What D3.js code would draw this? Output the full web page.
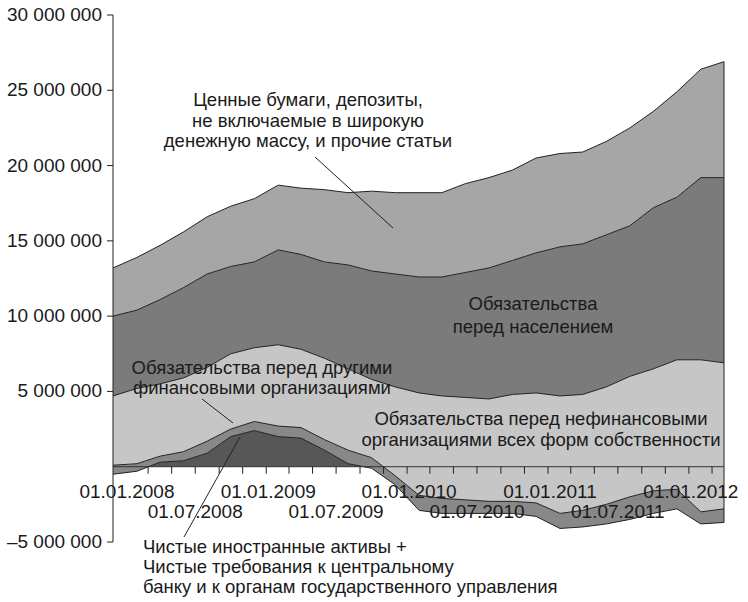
<!DOCTYPE html>
<html>
<head>
<meta charset="utf-8">
<script src="https://cdn.jsdelivr.net/npm/d3@7"></script>
<style>
  body { margin: 0; background: #fff; }
  text { font-family: "Liberation Sans", Arial, sans-serif; fill: #1a1a1a; }
</style>
</head>
<body>
<svg id="chart" width="748" height="602"></svg>
<script>
// dates, every 2 months from 01.12.2007
const dates = ['2007-12','2008-02','2008-04','2008-06','2008-08','2008-10','2008-12',
  '2009-02','2009-04','2009-06','2009-08','2009-10','2009-12','2010-02','2010-04','2010-06',
  '2010-08','2010-10','2010-12','2011-02','2011-04','2011-06','2011-08','2011-10','2011-12',
  '2012-02','2012-04'];

// values, млн (bottom to top of the stack)
const foreignNet = [-0.5,-0.3,0.3,0.4,0.9,2.0,2.4,2.0,1.9,1.1,0.2,-0.1,-1.2,-2.9,-3.1,-3.1,-3.1,-3.1,-3.3,-4.1,-4.0,-3.8,-3.5,-3.1,-2.8,-3.8,-3.7];
const otherFin   = [0.6,0.5,0.4,0.6,0.8,0.5,0.6,0.7,0.7,0.7,0.9,0.7,0.6,1.0,1.0,0.9,0.8,0.8,0.9,1.0,1.1,1.3,1.5,1.5,1.3,0.8,0.9];
const nonFin     = [4.6,5.0,4.8,4.9,4.9,5.0,4.9,5.4,5.2,5.4,5.4,5.2,5.9,6.8,6.8,6.8,6.8,7.1,7.3,7.8,7.7,7.8,8.0,8.1,8.6,10.1,9.7];
const households = [5.3,5.2,5.6,6.0,6.2,5.8,5.7,6.3,6.3,6.4,6.9,7.2,7.5,7.7,7.9,8.3,8.7,8.9,9.3,9.9,10.0,10.1,10.0,10.7,10.8,12.1,12.3];
const securities = [3.2,3.5,3.6,3.7,3.8,4.0,4.2,4.3,4.4,4.8,4.8,5.3,5.4,5.6,5.6,5.9,6.0,6.0,6.3,6.2,6.1,6.2,6.5,6.4,7.0,7.2,7.7];

const yTicks = [-5e6, 5e6, 10e6, 15e6, 20e6, 25e6, 30e6];
const xLabelsJan = ['2008-01','2009-01','2010-01','2011-01','2012-01'];
const xLabelsJul = ['2008-07','2009-07','2010-07','2011-07'];

const parse = d3.timeParse('%Y-%m');
const fmt = d3.timeFormat('%d.%m.%Y');
const svg = d3.select('#chart');

const x = d3.scaleTime().domain([parse('2007-12'), parse('2012-04')]).range([113, 724]);
const y = d3.scaleLinear().domain([-5e6, 30e6]).range([542, 15]);

// cumulative boundaries
const series = [foreignNet, otherFin, nonFin, households, securities];
const rows = dates.map((d, i) => {
  let acc = 0;
  const c = series.map(s => (acc += s[i] * 1e6));
  return { date: parse(d), c };
});

const layers = [
  { lo: r => 0, hi: r => Math.max(r.c[0], 0), fill: '#575757' },
  { lo: r => r.c[0], hi: r => r.c[1], fill: '#888888' },
  { lo: r => r.c[1], hi: r => r.c[2], fill: '#c6c6c6' },
  { lo: r => r.c[2], hi: r => r.c[3], fill: '#7b7b7b' },
  { lo: r => r.c[3], hi: r => r.c[4], fill: '#a6a6a6' }
];

layers.forEach(l => {
  svg.append('path')
    .datum(rows)
    .attr('fill', l.fill)
    .attr('d', d3.area().x(r => x(r.date)).y0(r => y(l.lo(r))).y1(r => y(l.hi(r))));
});

// boundary lines
[0, 1, 2, 3, 4].forEach(k => {
  svg.append('path')
    .datum(rows)
    .attr('fill', 'none')
    .attr('stroke', '#222')
    .attr('stroke-width', 1)
    .attr('d', d3.line().x(r => x(r.date)).y(r => y(r.c[k])));
});

// right edge
svg.append('line').attr('x1', x.range()[1]).attr('x2', x.range()[1])
  .attr('y1', y(rows[rows.length - 1].c[4])).attr('y2', y(rows[rows.length - 1].c[0]))
  .attr('stroke', '#222');

// y axis
svg.append('line').attr('x1', 113).attr('x2', 113).attr('y1', y(30e6)).attr('y2', y(-5e6)).attr('stroke', '#222');
svg.selectAll('.yt').data(yTicks).enter().append('line')
  .attr('x1', 107).attr('x2', 113).attr('y1', d => y(d)).attr('y2', d => y(d)).attr('stroke', '#222');
svg.selectAll('.yl').data(yTicks).enter().append('text')
  .attr('x', 102).attr('y', d => y(d) + 6)
  .attr('text-anchor', 'end').attr('font-size', 19)
  .text(d => (d < 0 ? '\u2013' : '') + d3.format(',')(Math.abs(d)).replace(/,/g, ' '));

// x axis on zero line
svg.append('line').attr('x1', 113).attr('x2', 724).attr('y1', y(0)).attr('y2', y(0)).attr('stroke', '#333');
const xt = d3.timeMonth.every(2).range(parse('2008-02'), parse('2012-04'));
svg.selectAll('.xt').data(xt).enter().append('line')
  .attr('x1', d => x(d)).attr('x2', d => x(d)).attr('y1', y(0)).attr('y2', y(0) + 7).attr('stroke', '#222');
svg.selectAll('.xj').data(xLabelsJan).enter().append('text')
  .attr('x', d => x(parse(d)) + 2).attr('y', 498).attr('text-anchor', 'middle').attr('font-size', 19)
  .text(d => fmt(parse(d)));
svg.selectAll('.xu').data(xLabelsJul).enter().append('text')
  .attr('x', d => x(parse(d))).attr('y', 518).attr('text-anchor', 'middle').attr('font-size', 19)
  .text(d => fmt(parse(d)));

// annotations
function label(lines, px, py, anchor, dy) {
  const t = svg.append('text').attr('font-size', 18.5).attr('text-anchor', anchor);
  lines.forEach((s, i) => t.append('tspan').attr('x', px).attr('y', py + i * dy).text(s));
}
function leader(x1, y1, x2, y2) {
  svg.append('line').attr('x1', x1).attr('y1', y1).attr('x2', x2).attr('y2', y2)
    .attr('stroke', '#222').attr('stroke-width', 1);
}
label(['Ценные бумаги, депозиты,', 'не включаемые в широкую', 'денежную массу, и прочие статьи'], 308, 106, 'middle', 20.5);
leader(315, 157, 393, 228);
label(['Обязательства', 'перед населением'], 533, 310, 'middle', 23);
label(['Обязательства перед другими', 'финансовыми организациями'], 262, 374, 'middle', 19.5);
leader(202, 399, 233, 423);
label(['Обязательства перед нефинансовыми', 'организациями всех форм собственности'], 541, 425, 'middle', 21);
label(['Чистые иностранные активы +', 'Чистые требования к центральному', 'банку и к органам государственного управления'], 143, 553, 'start', 20);
leader(184, 537, 240, 437);
</script>
</body>
</html>
